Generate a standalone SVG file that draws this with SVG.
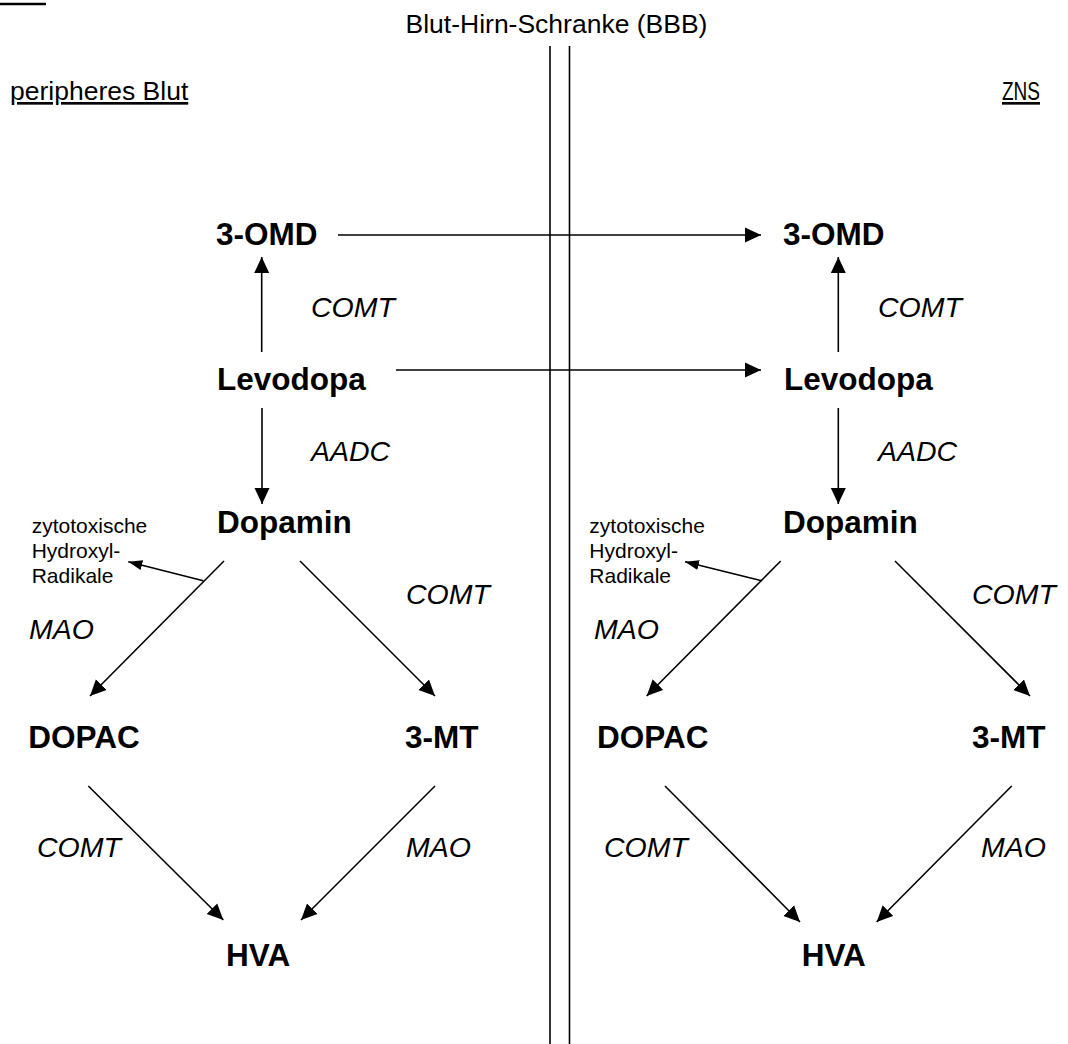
<svg xmlns="http://www.w3.org/2000/svg" width="1068" height="1044" viewBox="0 0 1068 1044">
<style>
text{font-family:"Liberation Sans",Arial,sans-serif;fill:#000}
.t{font-size:26.5px}
.n{font-size:31.5px;font-weight:bold}
.e{font-size:28.5px;font-style:italic}
.s{font-size:21px}
.u{text-decoration:underline}
.c{stroke:#000;stroke-width:1.6;fill:none}
</style>
<defs>
<marker id="ah" markerUnits="userSpaceOnUse" markerWidth="18" markerHeight="18" refX="16" refY="8" orient="auto"><path d="M0,0.5 L16,8 L0,15.5 Z" fill="#000"/></marker>
<marker id="ahs" markerUnits="userSpaceOnUse" markerWidth="16" markerHeight="12" refX="14" refY="5" orient="auto"><path d="M0,0 L14,5 L0,10 Z" fill="#000"/></marker>
</defs>
<rect width="1068" height="1044" fill="#fff"/>
<line x1="0" y1="4" x2="46" y2="4" stroke="#000" stroke-width="2.6"/>
<g id="barrier">
<line class="c" x1="550" y1="46" x2="550" y2="1044"/>
<line class="c" x1="569.5" y1="46" x2="569.5" y2="1044"/>
<text class="t" x="556.5" y="33" text-anchor="middle">Blut-Hirn-Schranke (BBB)</text>
</g>
<text class="t u" x="10" y="100">peripheres Blut</text>
<text class="t u" x="1002" y="100" textLength="38" lengthAdjust="spacingAndGlyphs">ZNS</text>

<g id="connectors">
<line class="c" x1="338" y1="235" x2="761" y2="235" marker-end="url(#ah)"/>
<line class="c" x1="396" y1="370" x2="761" y2="370" marker-end="url(#ah)"/>
<line class="c" x1="261.7" y1="352" x2="261.7" y2="257" marker-end="url(#ah)"/>
<line class="c" x1="838.3" y1="352" x2="838.3" y2="257" marker-end="url(#ah)"/>
<line class="c" x1="262" y1="408" x2="262" y2="504" marker-end="url(#ah)"/>
<line class="c" x1="838.3" y1="408" x2="838.3" y2="504" marker-end="url(#ah)"/>
<line class="c" x1="224" y1="561" x2="90" y2="696" marker-end="url(#ah)"/>
<line class="c" x1="300" y1="561" x2="435" y2="696" marker-end="url(#ah)"/>
<line class="c" x1="780.7" y1="561" x2="646.7" y2="696" marker-end="url(#ah)"/>
<line class="c" x1="895" y1="561" x2="1030" y2="696" marker-end="url(#ah)"/>
<line class="c" x1="203.3" y1="580.7" x2="128.3" y2="561.7" marker-end="url(#ahs)"/>
<line class="c" x1="761.7" y1="580.7" x2="685" y2="561.7" marker-end="url(#ahs)"/>
<line class="c" x1="88.3" y1="786" x2="223.3" y2="920" marker-end="url(#ah)"/>
<line class="c" x1="435" y1="786" x2="301" y2="920" marker-end="url(#ah)"/>
<line class="c" x1="665" y1="786" x2="800" y2="922" marker-end="url(#ah)"/>
<line class="c" x1="1011.7" y1="786" x2="876.7" y2="922" marker-end="url(#ah)"/>
</g>

<g id="labels">
<text class="e" x="311" y="317">COMT</text>
<text class="e" x="878" y="317">COMT</text>
<text class="e" x="311" y="461">AADC</text>
<text class="e" x="878" y="461">AADC</text>
<text class="e" x="29" y="639">MAO</text>
<text class="e" x="594" y="639">MAO</text>
<text class="e" x="406" y="604">COMT</text>
<text class="e" x="972" y="604">COMT</text>
<text class="e" x="37" y="857">COMT</text>
<text class="e" x="604" y="857">COMT</text>
<text class="e" x="406" y="857">MAO</text>
<text class="e" x="981" y="857">MAO</text>
</g>

<g id="omd-l"><text class="n" x="216" y="245">3-OMD</text></g>
<g id="omd-r"><text class="n" x="783" y="245">3-OMD</text></g>
<g id="levodopa-l"><text class="n" x="217" y="390">Levodopa</text></g>
<g id="levodopa-r"><text class="n" x="784" y="390">Levodopa</text></g>
<g id="dopamin-l"><text class="n" x="217" y="533">Dopamin</text></g>
<g id="dopamin-r"><text class="n" x="783" y="533">Dopamin</text></g>
<g id="radikale-l"><text class="s" x="31.7" y="533">zytotoxische</text><text class="s" x="31.7" y="558">Hydroxyl-</text><text class="s" x="31.7" y="583">Radikale</text></g>
<g id="radikale-r"><text class="s" x="589.3" y="533">zytotoxische</text><text class="s" x="589.3" y="558">Hydroxyl-</text><text class="s" x="589.3" y="583">Radikale</text></g>
<g id="dopac-l"><text class="n" x="28.3" y="748">DOPAC</text></g>
<g id="dopac-r"><text class="n" x="597" y="748">DOPAC</text></g>
<g id="mt-l"><text class="n" x="405" y="748">3-MT</text></g>
<g id="mt-r"><text class="n" x="972" y="748">3-MT</text></g>
<g id="hva-l"><text class="n" x="226" y="966">HVA</text></g>
<g id="hva-r"><text class="n" x="801.7" y="966">HVA</text></g>
</svg>
